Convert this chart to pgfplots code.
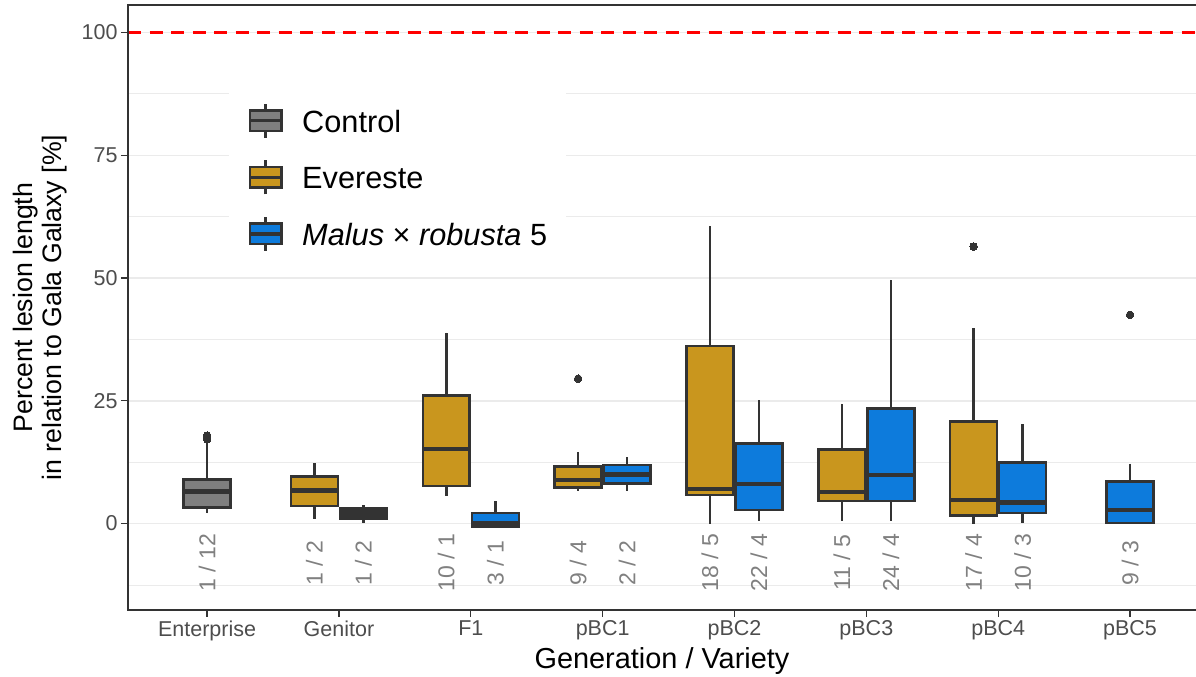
\documentclass[border=0pt]{standalone}
\usepackage{fontspec}
\setmainfont{Liberation Sans}
\usepackage{pgfplots}
\pgfplotsset{compat=1.18}
\usepgfplotslibrary{statistics}
\definecolor{lc}{HTML}{333333}
\definecolor{cgray}{HTML}{7F7F7F}
\definecolor{cgold}{HTML}{C9961E}
\definecolor{cblue}{HTML}{0D7BDC}
\definecolor{gridc}{HTML}{EBEBEB}
\definecolor{tickc}{HTML}{4D4D4D}
\definecolor{countc}{HTML}{808080}

\pgfplotsset{
  bp/.style={forget plot, draw=lc, line width=2.5bp,
    mark=*, mark size=3.8bp, mark options={fill=lc, draw=lc, line width=0pt},
    boxplot/draw direction=y,
    boxplot/box extend=0.356, boxplot/whisker extend=0,
    boxplot/every median/.style={line width=4.5bp}},
  boxkey/.style={legend image code/.code={
    \draw[draw=lc, line width=2.5bp] (17bp,-17bp) -- (17bp,17bp);
    \draw[draw=lc, fill=#1, line width=2.5bp] (1.25bp,-10.25bp) rectangle (32.75bp,10.25bp);
    \draw[draw=lc, line width=3.5bp] (1.25bp,0bp) -- (32.75bp,0bp);
  }},
}

\begin{document}
\begin{tikzpicture}
\path[use as bounding box] (0,0) rectangle (1196bp,677bp);
\begin{axis}[
  at={(128bp,67bp)}, anchor=south west,
  scale only axis, width=1068bp, height=605bp,
  xmin=0.4, xmax=8.5, ymin=-17.6, ymax=105.6,
  axis line style={draw=none},
  xtick={1,...,8},
  xticklabels={Enterprise,Genitor,F1,pBC1,pBC2,pBC3,pBC4,pBC5},
  ytick={0,25,50,75,100},
  minor ytick={-12.5,12.5,37.5,62.5,87.5},
  ymajorgrids, yminorgrids,
  major grid style={color=gridc, line width=1.4bp},
  minor grid style={color=gridc, line width=0.8bp},
  tick align=outside, xtick pos=bottom, ytick pos=left,
  major tick length=7bp, minor tick length=0pt,
  tick style={color=lc, line width=1.3bp},
  ticklabel style={font=\fontsize{21.5bp}{24bp}\selectfont, text=tickc},
  /pgf/number format/assume math mode=true,
  xlabel={Generation / Variety},
  ylabel={Percent lesion length\\in relation to Gala Galaxy [\%]},
  every axis x label/.style={at={(axis description cs:0.5,-0.0959)}, anchor=base,
    font=\fontsize{28.9bp}{32bp}\selectfont},
  every axis y label/.style={at={(axis description cs:-0.0824,0.5)}, anchor=center,
    rotate=90, align=center, font=\fontsize{26.7bp}{29bp}\selectfont},
  legend cell align=left,
  legend style={at={(axis description cs:0.0946,0.8628)}, anchor=north west,
    draw=none, fill=white, inner xsep=19bp, inner ysep=4bp,
    font=\fontsize{30.7bp}{36bp}\selectfont,
    nodes={inner sep=0pt, text height=23bp, text depth=0pt, minimum height=56.7bp},
    /tikz/every odd column/.append style={column sep=19bp}},
  after end axis/.code={
    \draw[color=lc, line width=1.3bp] (rel axis cs:1,1) -- (rel axis cs:0,1)
      -- (rel axis cs:0,0) -- (rel axis cs:1,0);
  },
]
% reference line
\addplot[forget plot, color=red, line width=3bp, dash pattern=on 13bp off 8.5bp]
  coordinates {(0.4,100) (8.5,100)};

% Enterprise (Control)
\addplot[bp, fill=cgray, boxplot prepared={draw position=1,
  lower whisker=2.1, lower quartile=3.3, median=6.5, upper quartile=9.0, upper whisker=16.6}]
  coordinates {(0,17.2) (0,17.9)};
% Genitor
\addplot[bp, fill=cgold, boxplot prepared={draw position=1.814,
  lower whisker=1.0, lower quartile=3.6, median=6.7, upper quartile=9.6, upper whisker=12.3}]
  coordinates {};
\addplot[bp, fill=lc, boxplot prepared={draw position=2.186,
  lower whisker=0.1, lower quartile=0.9, median=2.0, upper quartile=3.1, upper whisker=3.7}]
  coordinates {};
% F1
\addplot[bp, fill=cgold, boxplot prepared={draw position=2.814,
  lower whisker=5.7, lower quartile=7.6, median=15.2, upper quartile=26.1, upper whisker=38.9}]
  coordinates {};
\addplot[bp, fill=cblue, boxplot prepared={draw position=3.186,
  lower whisker=-0.6, lower quartile=-0.6, median=0.1, upper quartile=2.2, upper whisker=4.6}]
  coordinates {};
% pBC1
\addplot[bp, fill=cgold, boxplot prepared={draw position=3.814,
  lower whisker=6.6, lower quartile=7.3, median=8.9, upper quartile=11.6, upper whisker=14.6}]
  coordinates {(0,29.5)};
\addplot[bp, fill=cblue, boxplot prepared={draw position=4.186,
  lower whisker=6.6, lower quartile=8.2, median=10.0, upper quartile=11.9, upper whisker=13.5}]
  coordinates {};
% pBC2
\addplot[bp, fill=cgold, boxplot prepared={draw position=4.814,
  lower whisker=0.0, lower quartile=5.8, median=7.0, upper quartile=36.2, upper whisker=60.6}]
  coordinates {};
\addplot[bp, fill=cblue, boxplot prepared={draw position=5.186,
  lower whisker=0.6, lower quartile=2.8, median=8.1, upper quartile=16.3, upper whisker=25.1}]
  coordinates {};
% pBC3
\addplot[bp, fill=cgold, boxplot prepared={draw position=5.814,
  lower whisker=0.6, lower quartile=4.55, median=6.4, upper quartile=15.1, upper whisker=24.4}]
  coordinates {};
\addplot[bp, fill=cblue, boxplot prepared={draw position=6.186,
  lower whisker=0.6, lower quartile=4.55, median=9.9, upper quartile=23.4, upper whisker=49.6}]
  coordinates {};
% pBC4
\addplot[bp, fill=cgold, boxplot prepared={draw position=6.814,
  lower whisker=0.0, lower quartile=1.6, median=4.8, upper quartile=20.75, upper whisker=39.8}]
  coordinates {(0,56.4)};
\addplot[bp, fill=cblue, boxplot prepared={draw position=7.186,
  lower whisker=0.1, lower quartile=2.2, median=4.3, upper quartile=12.4, upper whisker=20.2}]
  coordinates {};
% pBC5
\addplot[bp, fill=cblue, boxplot prepared={draw position=8,
  lower whisker=0.0, lower quartile=0.1, median=2.8, upper quartile=8.6, upper whisker=12.2}]
  coordinates {(0,42.5)};

% sample counts
\addplot[forget plot, draw=none, mark=none, nodes near coords, point meta=explicit symbolic,
  every node near coord/.style={rotate=90, anchor=center, inner sep=0pt,
    font=\fontsize{23bp}{26bp}\selectfont, text=countc}]
  coordinates {
    (1,-8) [1 / 12]
    (1.814,-8) [1 / 2] (2.186,-8) [1 / 2]
    (2.814,-8) [10 / 1] (3.186,-8) [3 / 1]
    (3.814,-8) [9 / 4] (4.186,-8) [2 / 2]
    (4.814,-8) [18 / 5] (5.186,-8) [22 / 4]
    (5.814,-8) [11 / 5] (6.186,-8) [24 / 4]
    (6.814,-8) [17 / 4] (7.186,-8) [10 / 3]
    (8,-8) [9 / 3]
  };

\addlegendimage{boxkey=cgray}
\addlegendentry{Control}
\addlegendimage{boxkey=cgold}
\addlegendentry{Evereste}
\addlegendimage{boxkey=cblue}
\addlegendentry{\textit{Malus} × \textit{robusta} 5}
\end{axis}
\end{tikzpicture}
\end{document}
